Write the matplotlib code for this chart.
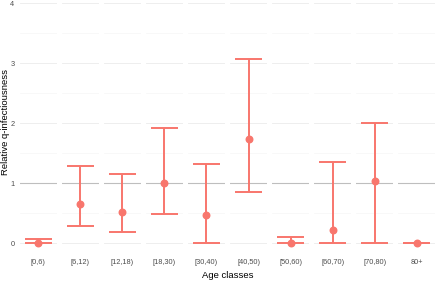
import numpy as np
import matplotlib.pyplot as plt

age_classes = ["[0,6)", "[6,12)", "[12,18)", "[18,30)", "[30,40)",
               "[40,50)", "[50,60)", "[60,70)", "[70,80)", "80+"]
estimate = [0.0, 0.65, 0.52, 1.0, 0.47, 1.73, 0.01, 0.22, 1.03, 0.0]
lower = [0.0, 0.29, 0.18, 0.49, 0.0, 0.855, 0.0, 0.0, 0.0, 0.0]
upper = [0.065, 1.28, 1.155, 1.92, 1.32, 3.07, 0.11, 1.355, 2.01, 0.0]

plt.rcParams['font.family'] = ['Liberation Sans', 'DejaVu Sans']
red = '#F8766D'

fig, axes = plt.subplots(1, len(age_classes), figsize=(4.4, 2.81), dpi=100, sharey=True)
fig.subplots_adjust(left=0.0455, right=0.9886, top=0.999, bottom=0.113, wspace=0.15)

for i, ax in enumerate(axes):
    ax.set_xlim(-0.6, 0.6)
    ax.set_ylim(-0.1, 4.05)
    ax.set_yticks([0, 1, 2, 3, 4])
    ax.set_yticks(np.arange(0.5, 4, 1), minor=True)
    ax.grid(axis='y', which='major', color='#EBEBEB', lw=0.6)
    ax.grid(axis='y', which='minor', color='#F3F3F3', lw=0.4)
    ax.set_axisbelow(True)
    ax.axhline(1, color='#BEBEBE', lw=0.8, zorder=1)
    ax.vlines(0, lower[i], upper[i], color=red, lw=1.4, zorder=2)
    ax.hlines([lower[i], upper[i]], -0.45, 0.45, color=red, lw=1.4, zorder=2)
    ax.plot(0, estimate[i], 'o', color=red, ms=4.7, zorder=3)
    ax.set_xticks([0])
    ax.set_xticklabels([age_classes[i]])
    for s in ax.spines.values():
        s.set_visible(False)
    ax.tick_params(axis='both', which='both', length=0, labelsize=5.3, colors='#4D4D4D')
    ax.tick_params(axis='x', pad=7)
    ax.tick_params(axis='y', pad=4)

fig.text(227.5 / 440, 1 - 275 / 281, "Age classes", ha='center', va='center', fontsize=6.8)
fig.text(5.5 / 440, 1 - 122 / 281, "Relative q-infectiousness", ha='center', va='center',
         rotation=90, fontsize=6.8)

plt.savefig("out.png", dpi=100)
